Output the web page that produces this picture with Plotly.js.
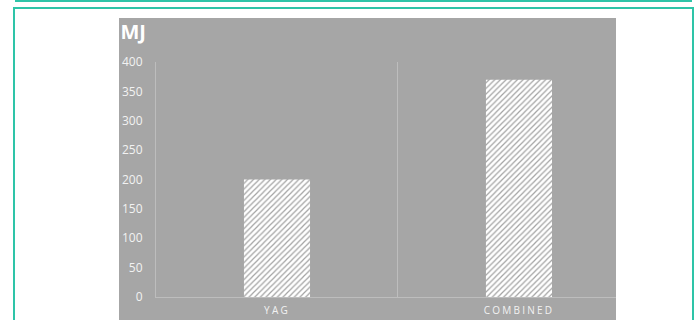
<!DOCTYPE html>
<html>
<head>
<meta charset="utf-8">
<script src="https://cdn.plot.ly/plotly-3.0.1.min.js"></script>
<style>
html,body{margin:0;padding:0;width:696px;height:320px;overflow:hidden;background:#fff;}
#topbox{position:absolute;left:15px;top:-10px;width:673px;height:10px;border:2px solid #2ec4a8;border-top:none;}
#outer{position:absolute;left:13px;top:7px;width:677px;height:330px;border:2px solid #2ec4a8;}
#chart{position:absolute;left:119px;top:18px;width:497px;height:304px;}
.xtick text{letter-spacing:2.2px;}
</style>
</head>
<body>
<div id="topbox"></div>
<div id="outer"></div>
<div id="chart"></div>
<script>
const categories = ['YAG', 'COMBINED'];
const energyMJ = [200, 370];
const yTickVals = [0, 50, 100, 150, 200, 250, 300, 350, 400];

const trace = {
  type: 'bar',
  x: categories,
  y: energyMJ,
  width: 0.273,
  marker: {
    color: '#ffffff',
    line: {width: 0},
    pattern: {shape: '/', bgcolor: '#ffffff', fgcolor: '#a3a3a3', size: 4, solidity: 0.3}
  },
  hoverinfo: 'none'
};

const layout = {
  width: 497, height: 304,
  margin: {l: 37, r: 0, t: 44, b: 25, pad: 0},
  paper_bgcolor: '#a6a6a6',
  plot_bgcolor: '#a6a6a6',
  font: {family: 'Open Sans, sans-serif', color: '#f2f2f2', size: 12},
  showlegend: false,
  title: {text: '<b>MJ</b>', x: 0.003, xanchor: 'left', xref: 'container', y: 0.955, yanchor: 'middle', yref: 'container',
          font: {size: 20, color: '#ffffff', family: 'Open Sans, sans-serif'}},
  xaxis: {
    type: 'category',
    range: [-0.5, 1.401],
    tickson: 'boundaries',
    showgrid: true, gridcolor: '#bdbdbd', gridwidth: 1,
    showline: true, linecolor: '#bdbdbd', linewidth: 1,
    ticks: '', tickfont: {size: 10, color: '#f2f2f2'},
    ticklabelstandoff: 4,
    zeroline: false, fixedrange: true
  },
  yaxis: {
    range: [0, 400],
    tickvals: yTickVals,
    showgrid: false,
    showline: true, linecolor: '#bdbdbd', linewidth: 1,
    ticks: '', tickfont: {size: 12, color: '#f2f2f2'},
    ticklabelstandoff: 10,
    zeroline: false, fixedrange: true
  }
};

Plotly.newPlot('chart', [trace], layout, {displayModeBar: false, staticPlot: true});
</script>
</body>
</html>
